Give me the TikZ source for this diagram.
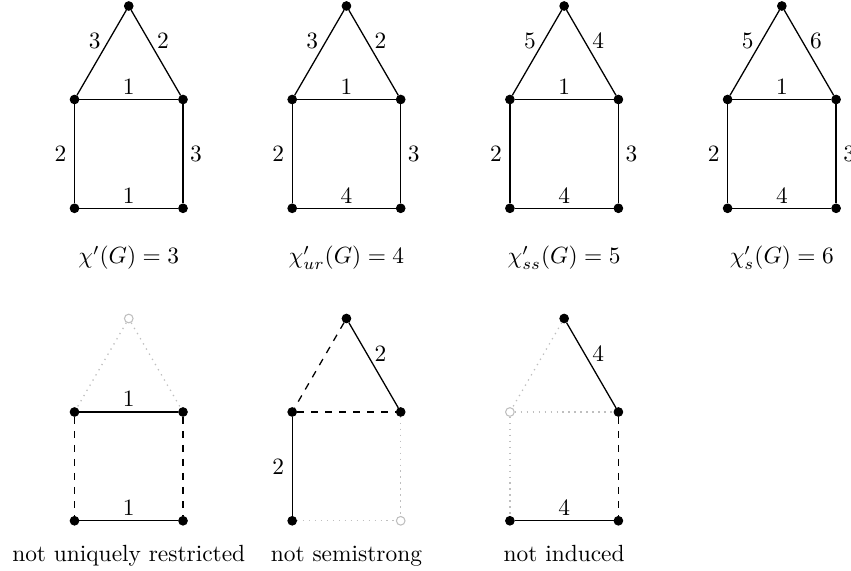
\documentclass[tikz,border=0pt]{standalone}
\begin{document}
\begin{tikzpicture}[x=0.4274pt,y=-0.4274pt,
  v/.style={circle,fill=black,draw=black,inner sep=0pt,minimum size=3.7pt},
  hv/.style={circle,fill=white,draw=black!25,line width=0.45pt,inner sep=0pt,minimum size=3.7pt},
  e/.style={line width=0.55pt},
  de/.style={line width=0.55pt,dashed},
  ge/.style={line width=0.55pt,dotted,draw=black!25},
  el/.style={midway,inner sep=0pt,anchor=center},
  captxt/.style={anchor=base,inner sep=0pt}]
\useasboundingbox (0,0) rectangle (851,571);
\newcommand{\housenodes}[8]{%
  \node[#4] (#1a) at ({#2+54.25},{#3-93.5}) {};
  \node[#5] (#1tl) at (#2,#3) {};
  \node[#6] (#1tr) at ({#2+108.5},#3) {};
  \node[#7] (#1bl) at (#2,{#3+108.8}) {};
  \node[#8] (#1br) at ({#2+108.5},{#3+108.8}) {};}
% top row
\housenodes{p}{74.5}{99.5}{v}{v}{v}{v}{v}
\housenodes{q}{292.2}{99.5}{v}{v}{v}{v}{v}
\housenodes{r}{509.9}{99.5}{v}{v}{v}{v}{v}
\housenodes{s}{727.6}{99.5}{v}{v}{v}{v}{v}
% bottom row
\housenodes{t}{74.5}{412}{hv}{v}{v}{v}{v}
\housenodes{u}{292.2}{412}{v}{v}{v}{v}{hv}
\housenodes{w}{509.9}{412}{v}{hv}{v}{v}{v}
% top row edges
\foreach \g/\ra/\rb/\tp/\lf/\rt/\bt in {p/3/2/1/2/3/1, q/3/2/1/2/3/4, r/5/4/1/2/3/4, s/5/6/1/2/3/4}{
  \draw[e] (\g a) -- node[el,shift={(-7,-12)}]{\ra} (\g tl);
  \draw[e] (\g a) -- node[el,shift={(7,-12)}]{\rb} (\g tr);
  \draw[e] (\g tl) -- node[el,shift={(0,-13)}]{\tp} (\g tr);
  \draw[e] (\g tl) -- node[el,shift={(-14,0)}]{\lf} (\g bl);
  \draw[e] (\g tr) -- node[el,shift={(13,0)}]{\rt} (\g br);
  \draw[e] (\g bl) -- node[el,shift={(0,-13)}]{\bt} (\g br);
}
\node[captxt] (c1) at (128.75,264) {$\chi'(G)=3$};
\node[captxt] (c2) at (346.45,264) {$\chi'_{ur}(G)=4$};
\node[captxt] (c3) at (564.15,264) {$\chi'_{ss}(G)=5$};
\node[captxt] (c4) at (781.85,264) {$\chi'_{s}(G)=6$};
% bottom: not uniquely restricted
\draw[ge] (ta) -- (ttl);
\draw[ge] (ta) -- (ttr);
\draw[e] (ttl) -- node[el,shift={(0,-13)}]{1} (ttr);
\draw[de] (ttl) -- (tbl);
\draw[de] (ttr) -- (tbr);
\draw[e] (tbl) -- node[el,shift={(0,-13)}]{1} (tbr);
% not semistrong
\draw[de] (ua) -- (utl);
\draw[e] (ua) -- node[el,shift={(7,-12)}]{2} (utr);
\draw[de] (utl) -- (utr);
\draw[e] (utl) -- node[el,shift={(-14,0)}]{2} (ubl);
\draw[ge] (utr) -- (ubr);
\draw[ge] (ubl) -- (ubr);
% not induced
\draw[ge] (wa) -- (wtl);
\draw[e] (wa) -- node[el,shift={(7,-12)}]{4} (wtr);
\draw[ge] (wtl) -- (wtr);
\draw[ge] (wtl) -- (wbl);
\draw[de] (wtr) -- (wbr);
\draw[e] (wbl) -- node[el,shift={(0,-13)}]{4} (wbr);
\node[captxt] (d1) at (128.75,561.5) {not uniquely restricted};
\node[captxt] (d2) at (346.45,561.5) {not semistrong};
\node[captxt] (d3) at (564.15,561.5) {not induced};
\end{tikzpicture}
\end{document}
